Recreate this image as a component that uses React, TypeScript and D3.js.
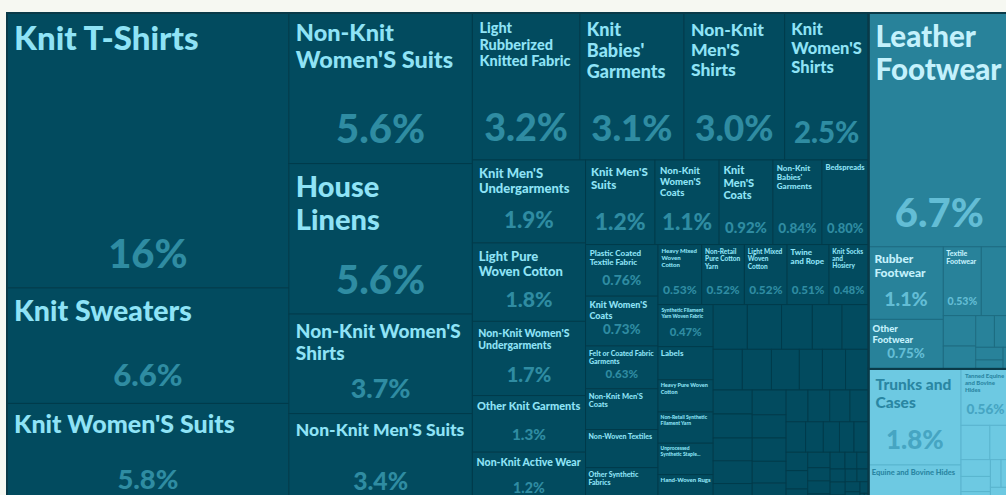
import React, { useMemo } from "react";
import * as d3 from "d3";

const W = 1006;
const H = 495;
const CHART_X = 7;
const CHART_Y = 13;
const CHART_W = 1003;
const CHART_H = 492;

const groupNames = ["Textiles", "Footwear and Headwear", "Animal Hides"];

const textileNames = [
  "Knit T-Shirts", "Knit Sweaters", "Knit Women'S Suits", "Non-Knit Women'S Suits", "House Linens",
  "Non-Knit Women'S Shirts", "Non-Knit Men'S Suits", "Light Rubberized Knitted Fabric", "Knit Babies' Garments",
  "Non-Knit Men'S Shirts", "Knit Women'S Shirts", "Knit Men'S Undergarments", "Light Pure Woven Cotton",
  "Non-Knit Women'S Undergarments", "Other Knit Garments", "Non-Knit Active Wear", "Knit Men'S Suits",
  "Non-Knit Women'S Coats", "Knit Men'S Coats", "Non-Knit Babies' Garments", "Bedspreads",
  "Plastic Coated Textile Fabric", "Knit Women'S Coats", "Felt or Coated Fabric Garments", "Non-Knit Men'S Coats",
  "Non-Woven Textiles", "Other Synthetic Fabrics", "Heavy Mixed Woven Cotton", "Non-Retail Pure Cotton Yarn",
  "Light Mixed Woven Cotton", "Twine and Rope", "Knit Socks and Hosiery", "Synthetic Filament Yarn Woven Fabric",
  "Labels", "Heavy Pure Woven Cotton", "Non-Retail Synthetic Filament Yarn", "Unprocessed Synthetic Staple Fibers",
  "Hand-Woven Rugs", "Rubber Textiles", "Tulles and Net Fabric", "Pile Fabric", "Embroidery",
  "Textile Wall Coverings", "Tufted Carpets", "Knotted Carpets", "Other Carpets", "Wadding", "Raw Cotton",
  "Cotton Yarn", "Synthetic Staple Fibers", "Artificial Filament Yarn", "Narrow Woven Fabric", "Trimmings",
  "Lace", "Tapestries", "Quilted Textiles", "Knit Gloves", "Non-Knit Gloves", "Neckties", "Shawls",
  "Handkerchiefs", "Blankets", "Tents", "Used Clothing", "Technical Textiles", "Textile Hoses",
  "Transmission Belts", "Textile Wicks", "Silk Fabrics", "Raw Silk", "Wool Yarn", "Combed Wool Fabric",
  "Carded Wool Fabric", "Flax Yarn", "Jute Yarn", "Jute Woven Fabric", "Metallic Yarn", "Gimp Yarn",
  "Paper Yarn", "Sewing Thread", "Cotton Waste", "Wool", "Fine Animal Hair", "Silk Waste", "Wool Waste",
  "Garnetted Stock", "Hemp Yarn", "Coconut Fibers", "Rags",
];
const textileValues = [
  15.7, 6.6, 5.8, 5.6, 5.6,
  3.7, 3.4, 3.2, 3.1,
  3.0, 2.5, 1.9, 1.8,
  1.7, 1.3, 1.21, 1.19,
  1.1, 0.92, 0.84, 0.8,
  0.76, 0.73, 0.63, 0.6,
  0.56, 0.55, 0.53, 0.52,
  0.52, 0.51, 0.48, 0.47,
  0.37, 0.36, 0.35, 0.35,
  0.34, 0.31, 0.31, 0.28, 0.27,
  0.24, 0.24, 0.24, 0.23, 0.19, 0.19,
  0.19, 0.19, 0.19, 0.18, 0.18,
  0.17, 0.17, 0.16, 0.16, 0.15, 0.15, 0.14,
  0.14, 0.13, 0.12, 0.12, 0.11, 0.1,
  0.09, 0.09, 0.08, 0.08, 0.07, 0.07,
  0.06, 0.06, 0.05, 0.05, 0.04, 0.04,
  0.04, 0.04, 0.03, 0.03, 0.03, 0.03, 0.02,
  0.02, 0.02, 0.01, 0.01,
];

const footwearNames = [
  "Leather Footwear", "Rubber Footwear", "Other Footwear", "Textile Footwear", "Knitted Hats",
  "Footwear Parts", "Wigs", "Umbrellas", "Other Headwear", "Artificial Flowers", "Processed Feathers",
  "Walking Sticks",
];
const footwearValues = [6.7, 1.1, 0.75, 0.53, 0.4, 0.2, 0.15, 0.12, 0.1, 0.07, 0.05, 0.03];

const hideNames = [
  "Trunks and Cases", "Equine and Bovine Hides", "Tanned Equine and Bovine Hides", "Leather Apparel",
  "Saddlery", "Tanned Goat Hides", "Tanned Sheep Hides", "Other Leather Articles", "Sheep Hides",
  "Furskins", "Artificial Fur", "Raw Furskins",
];
const hideValues = [1.8, 0.75, 0.56, 0.2, 0.14, 0.1, 0.09, 0.08, 0.06, 0.05, 0.04, 0.03];

const GROUP_STYLE: Record<string, { fill: string; stroke: string; name: string; share: string }> = {
  Textiles: { fill: "#024b5f", stroke: "#013b4b", name: "#8fe3f6", share: "#2f8ca2" },
  "Footwear and Headwear": { fill: "#28829a", stroke: "#1d6c82", name: "#c4f1fc", share: "#63bdd5" },
  "Animal Hides": { fill: "#6dc9e2", stroke: "#5ab5cf", name: "#2a86a2", share: "#46a5c2" },
};

const FAMILY = "Lato";
const FONT = "Lato, Roboto, 'Open Sans', sans-serif";
const WEIGHT = 900;
const LH = 1.15;

let _ctx: CanvasRenderingContext2D | null = null;
function measure(text: string, fs: number) {
  if (!_ctx) _ctx = document.createElement("canvas").getContext("2d");
  _ctx!.font = `${WEIGHT} ${fs}px ${FAMILY}`;
  return _ctx!.measureText(text).width;
}

function wrapWords(words: string[], fs: number, maxW: number): string[] | null {
  const lines: string[] = [];
  let cur = "";
  for (const w of words) {
    if (measure(w, fs) > maxW) return null;
    const t = cur ? cur + " " + w : w;
    if (measure(t, fs) <= maxW) cur = t;
    else {
      lines.push(cur);
      cur = w;
    }
  }
  if (cur) lines.push(cur);
  return lines;
}

function fitLabel(name: string, share: string, w: number, h: number) {
  if (w < 36 || h < 26) return null;
  const pad = Math.max(2.5, Math.min(7, Math.min(w, h) * 0.08));
  const aw = w - 2 * pad;
  let sfs = h * 0.27 < 11.2 ? 0 : Math.max(6, Math.min(40, h * 0.27, (0.78 * w) / measure(share, 1)));
  const nameLimit = Math.min(h * 0.45, h - 2 * pad - (sfs ? sfs * 1.1 : 0));
  const words = name.split(" ");
  const oneW = measure(name, 1);
  let fs = Math.min(33, h * 0.25, Math.sqrt((0.3 * aw * h) / (oneW * 1.2)));
  fs = Math.floor(fs * 2) / 2;
  let lines: string[] | null = null;
  for (; fs >= 5; fs -= 0.5) {
    const ls = wrapWords(words, fs, aw);
    if (ls && ls.length * fs * LH <= nameLimit) {
      lines = ls;
      break;
    }
  }
  if (!lines) {
    fs = 5;
    const maxLines = Math.floor(nameLimit / (fs * LH));
    const ls = wrapWords(words, fs, aw);
    if (ls && maxLines >= 1) {
      lines = ls.slice(0, maxLines);
      const parts = lines[lines.length - 1].split(" ");
      while (parts.length > 1 && measure(parts.join(" ") + "...", fs) > aw) parts.pop();
      lines[lines.length - 1] = parts.join(" ") + "...";
    }
  }
  return { pad, fs, lines: lines || [], sfs };
}

export default function App() {
  const { leaves, groups } = useMemo(() => {
    const data = {
      name: "root",
      children: [
        { name: groupNames[0], children: textileNames.map((n, i) => ({ name: n, value: textileValues[i] })) },
        { name: groupNames[1], children: footwearNames.map((n, i) => ({ name: n, value: footwearValues[i] })) },
        { name: groupNames[2], children: hideNames.map((n, i) => ({ name: n, value: hideValues[i] })) },
      ],
    };
    const root = d3
      .hierarchy<any>(data)
      .sum((d: any) => (d.children ? 0 : d.value))
      .sort((a, b) => (b.value || 0) - (a.value || 0));
    d3.treemap<any>().tile(d3.treemapSquarify).size([CHART_W, CHART_H]).paddingInner(0)(root);
    const total = root.value || 1;
    const fmt = d3.format(".2p");
    const leaves = (root.leaves() as any[]).map((l) => {
      const group = l.parent.data.name;
      const w = l.x1 - l.x0;
      const h = l.y1 - l.y0;
      const share = fmt(l.value / total);
      return { node: l, group, w, h, share, label: fitLabel(l.data.name, share, w, h) };
    });
    return { leaves, groups: root.children as any[] };
  }, []);

  return (
    <div style={{ position: "absolute", left: 0, top: 0 }}>
      <svg width={W} height={H} style={{ display: "block" }}>
        <rect x={0} y={0} width={W} height={H} fill="#f6f8f2" />
        <g transform={`translate(${CHART_X},${CHART_Y})`}>
          {leaves.map((d, i) => {
            const st = GROUP_STYLE[d.group];
            return (
              <rect
                key={"r" + i}
                x={d.node.x0}
                y={d.node.y0}
                width={d.w}
                height={d.h}
                fill={st.fill}
                stroke={st.stroke}
                strokeWidth={1}
              />
            );
          })}
          {groups.map((g, i) => (
            <rect
              key={"g" + i}
              x={g.x0}
              y={g.y0}
              width={g.x1 - g.x0}
              height={g.y1 - g.y0}
              fill="none"
              stroke="#0a3a48"
              strokeWidth={2}
            />
          ))}
          {leaves.map((d, i) => {
            if (!d.label) return null;
            const st = GROUP_STYLE[d.group];
            const { pad, fs, lines, sfs } = d.label;
            const n = d.node;
            return (
              <g key={"t" + i} fontFamily={FONT} fontWeight={WEIGHT}>
                {lines.length > 0 && (
                  <text x={n.x0 + pad} y={n.y0 + pad + fs * 0.9} fontSize={fs} fill={st.name}>
                    {lines.map((ln: string, j: number) => (
                      <tspan key={j} x={n.x0 + pad} dy={j === 0 ? 0 : fs * LH}>
                        {ln}
                      </tspan>
                    ))}
                  </text>
                )}
                {sfs > 0 && (
                  <text
                    x={(n.x0 + n.x1) / 2}
                    y={n.y1 - (7 + sfs * 0.33)}
                    fontSize={sfs}
                    fill={st.share}
                    textAnchor="middle"
                  >
                    {d.share}
                  </text>
                )}
              </g>
            );
          })}
        </g>
      </svg>
    </div>
  );
}
